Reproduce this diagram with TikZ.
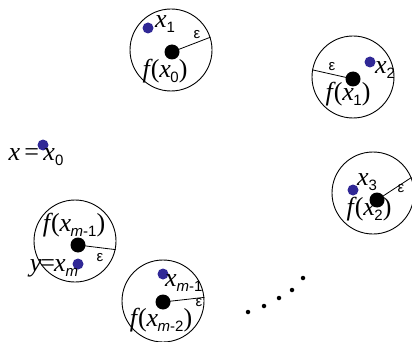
\documentclass[tikz,border=0pt]{standalone}
\usepackage{fontspec}
\setmainfont{Liberation Sans}
\newfontfamily\srf{Liberation Serif}
\definecolor{dotblue}{RGB}{48,40,150}
\newcommand\Sb[1]{\raisebox{-5pt}{\fontsize{15}{15}\selectfont #1}}
\newcommand\Vx{{\srf\itshape x}}
\newcommand\Fx[1]{{\srf\itshape f}\kern1pt{\srf(}\Vx\kern-0.5pt\Sb{#1}{\srf)}}
\tikzset{
  ball/.style={circle,draw,line width=0.9pt,minimum size=82pt,inner sep=0pt},
  bdot/.style={circle,fill=black,minimum size=15pt,inner sep=0pt},
  pdot/.style={circle,fill=dotblue,minimum size=11pt,inner sep=0pt},
  sdot/.style={circle,fill=black,minimum size=4.5pt,inner sep=0pt},
  lbl/.style={inner sep=0pt,font=\fontsize{26}{28}\selectfont},
  eps/.style={inner sep=0pt,font=\fontsize{15}{15}\selectfont},
  rad/.style={line width=0.8pt}
}
\begin{document}
\begin{tikzpicture}[x=1pt,y=-1pt]
\useasboundingbox (0,0) rectangle (412,342);
% ball 1
\node[ball] (c1) at (171,50) {};
\node[bdot] (d1) at (172,52) {};
\node[pdot] (p1) at (148,28) {};
\draw[rad] (d1.center) -- (c1.18);
\node[lbl,anchor=west] (l1) at (155,24) {\Vx\Sb{1}};
\node[eps] (e1) at (197,35) {ε};
\node[lbl] (f1) at (165,71) {\Fx{0}};
% ball 2
\node[ball] (c2) at (353,77) {};
\node[bdot] (d2) at (353,79) {};
\node[pdot] (p2) at (370,62) {};
\draw[rad] (d2.center) -- (c2.170);
\node[lbl,anchor=west] (l2) at (375,70) {\Vx\Sb{2}};
\node[eps] (e2) at (332,67) {ε};
\node[lbl] (f2) at (348,94) {\Fx{1}};
% ball 3
\node[ball] (c3) at (373,193) {};
\node[bdot] (d3) at (377,200) {};
\node[pdot] (p3) at (353,190) {};
\draw[rad] (d3.center) -- (c3.22);
\node[lbl,anchor=west] (l3) at (357,182) {\Vx\Sb{3}};
\node[eps] (e3) at (401,189) {ε};
\node[lbl] (f3) at (369,209) {\Fx{2}};
% ball 4
\node[ball] (c4) at (75,241) {};
\node[bdot] (d4) at (78,245) {};
\node[pdot] (p4) at (78,264) {};
\draw[rad] (d4.center) -- (c4.-12);
\node[eps] (e4) at (100,258) {ε};
\node[lbl] (f4) at (74,225) {\Fx{\textit{m}-1}};
\node[lbl] (y4) at (54,268) {{\srf\itshape y}\kern-1pt{\srf=}\kern-1pt\Vx\Sb{\textit{m}}};
% ball 5
\node[ball] (c5) at (163,301) {};
\node[bdot] (d5) at (163,302) {};
\node[pdot] (p5) at (163,274) {};
\draw[rad] (d5.center) -- (c5.5);
\node[eps] (e5) at (199,303) {ε};
\node[lbl,anchor=west] (l5) at (165,283) {\Vx\Sb{\textit{m}-1}};
\node[lbl] (f5) at (161,320) {\Fx{\textit{m}-2}};
% start point
\node[pdot] (p0) at (43,145) {};
\node[lbl] (s0) at (36,157) {\Vx\,{\srf=}\,\Vx\Sb{0}};
% ellipsis dots
\node[sdot] (s1) at (248,312) {};
\node[sdot] (s2) at (264,306) {};
\node[sdot] (s3) at (279,298) {};
\node[sdot] (s4) at (292,290) {};
\node[sdot] (s5) at (303,278) {};
\end{tikzpicture}
\end{document}
